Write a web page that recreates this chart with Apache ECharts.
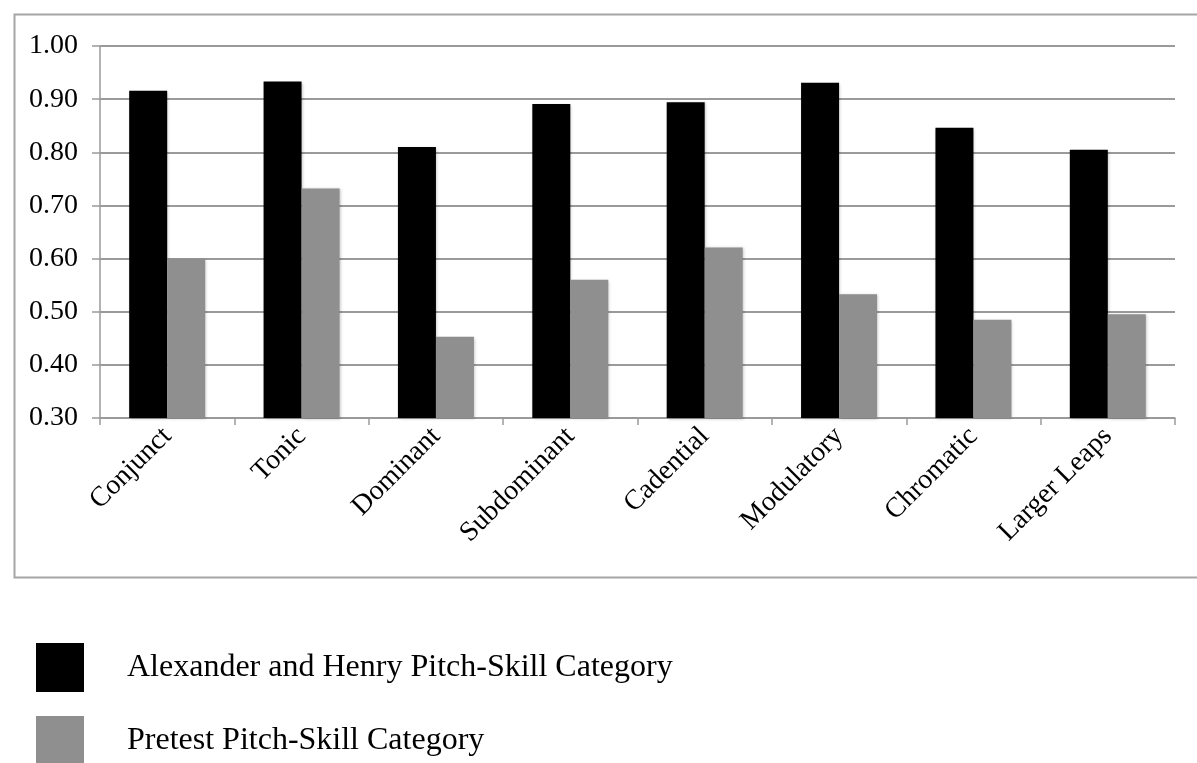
<!DOCTYPE html>
<html>
<head>
<meta charset="utf-8">
<script src="https://cdn.jsdelivr.net/npm/echarts@6/dist/echarts.min.js"></script>
<style>
  html, body { margin: 0; padding: 0; background: #fff; }
  #chart { width: 1197px; height: 763px; }
</style>
</head>
<body>
<div id="chart"></div>
<script>
// Pitch-skill categories along the x axis
const categories = ['Conjunct', 'Tonic', 'Dominant', 'Subdominant', 'Cadential', 'Modulatory', 'Chromatic', 'Larger Leaps'];
// Proportion correct per category
const alexanderHenry = [0.916, 0.933, 0.810, 0.891, 0.894, 0.931, 0.846, 0.805];
const pretest = [0.600, 0.732, 0.453, 0.560, 0.621, 0.533, 0.485, 0.495];
const seriesNames = ['Alexander and Henry Pitch-Skill Category', 'Pretest Pitch-Skill Category'];
// Value axis range
const yMin = 0.30, yMax = 1.00, yStep = 0.10;

const serif = '"Liberation Serif", "Times New Roman", serif';
const chart = echarts.init(document.getElementById('chart'), null, { renderer: 'canvas' });

chart.setOption({
  animation: false,
  backgroundColor: '#ffffff',
  graphic: [{
    type: 'rect',
    left: 12, top: 12,
    shape: { width: 1200, height: 563 },
    style: { fill: 'none', stroke: '#a6a6a6', lineWidth: 2 },
    silent: true
  }],
  grid: { left: 100, right: 22, top: 46, bottom: 345, containLabel: false },
  legend: {
    orient: 'vertical',
    left: 36, top: 643,
    width: 800, height: 300,
    padding: 0,
    itemWidth: 48, itemHeight: 49, itemGap: 24,
    icon: 'rect',
    data: seriesNames,
    textStyle: { fontFamily: serif, fontSize: 32, color: '#000', padding: [0, 0, 0, 38] }
  },
  xAxis: {
    type: 'category',
    data: categories,
    axisLine: { show: true, lineStyle: { color: '#9a9a9a', width: 1.5 } },
    axisTick: { show: true, length: 7, alignWithLabel: false, lineStyle: { color: '#9a9a9a', width: 1.5 } },
    axisLabel: { rotate: 45, margin: 14, fontFamily: serif, fontSize: 28, color: '#000', interval: 0 },
    splitLine: { show: false }
  },
  yAxis: {
    type: 'value',
    min: yMin, max: yMax, interval: yStep,
    axisLine: { show: true, lineStyle: { color: '#9a9a9a', width: 1.5 } },
    axisTick: { show: true, inside: false, length: 8, lineStyle: { color: '#9a9a9a', width: 1.5 } },
    axisLabel: { margin: 22, fontFamily: serif, fontSize: 28, color: '#000', formatter: v => v.toFixed(2) },
    splitLine: { show: true, lineStyle: { color: '#9a9a9a', width: 1.8 } }
  },
  series: [
    {
      name: seriesNames[0], type: 'bar', data: alexanderHenry,
      barWidth: 38, barGap: '0%',
      itemStyle: { color: '#000000', shadowColor: 'rgba(0,0,0,0.25)', shadowBlur: 3, shadowOffsetX: 1, shadowOffsetY: 1 }
    },
    {
      name: seriesNames[1], type: 'bar', data: pretest,
      barWidth: 38, barGap: '0%',
      itemStyle: { color: '#8f8f8f', shadowColor: 'rgba(0,0,0,0.25)', shadowBlur: 3, shadowOffsetX: 1, shadowOffsetY: 1 }
    }
  ]
});
</script>
</body>
</html>
